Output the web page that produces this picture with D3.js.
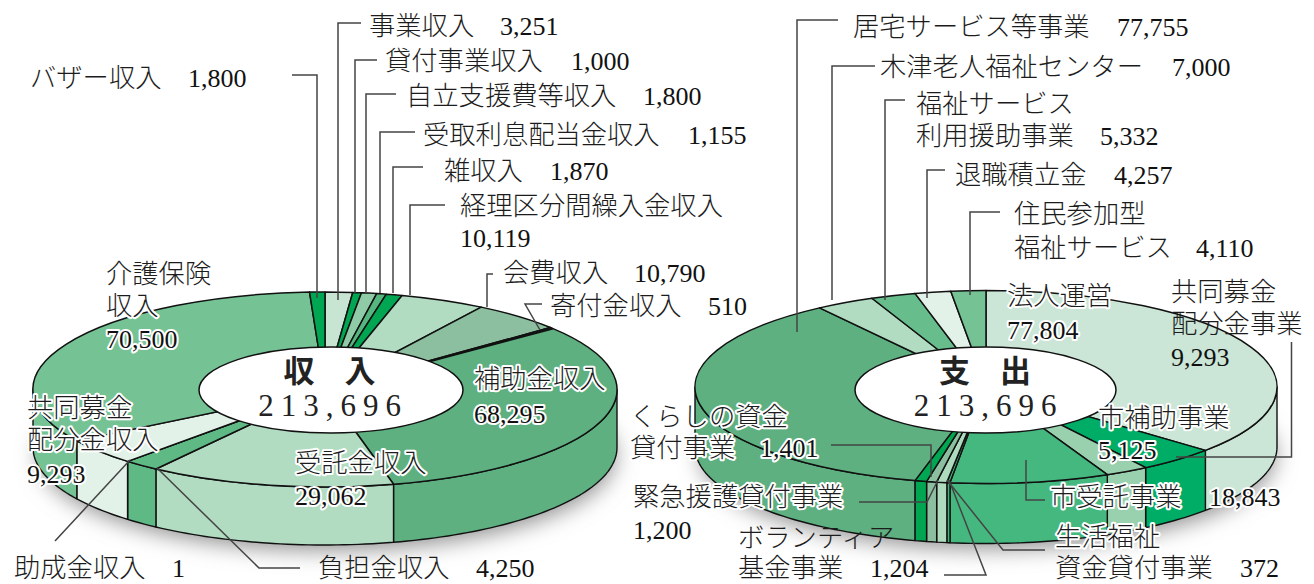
<!DOCTYPE html>
<html lang="ja"><head><meta charset="utf-8">
<script src="https://cdn.jsdelivr.net/npm/d3@7"></script>
<style>
html,body{margin:0;padding:0;background:#fff}
svg{display:block}
.jp{font-family:"Noto Sans CJK JP","Noto Sans";font-size:26.3px;font-weight:300;fill:#1c1c1c}
.num{font-family:"Liberation Serif";font-size:26px;fill:#111}
.halo{paint-order:stroke;stroke:#fff;stroke-width:4px;stroke-linejoin:round}
</style></head><body>
<svg id="c" width="1314" height="584"></svg>
<script>
// ---------- data ----------
const incomeNames = ["事業収入","貸付事業収入","自立支援費等収入","受取利息配当金収入","雑収入","経理区分間繰入金収入","会費収入","寄付金収入","補助金収入","受託金収入","負担金収入","助成金収入","共同募金配分金収入","介護保険収入","バザー収入"];
const incomeValues = [3251,1000,1800,1155,1870,10119,10790,510,68295,29062,4250,1,9293,70500,1800];
const incomeColors = ["#c8e4d2","#00a651","#8ecba6","#55b67f","#00a651","#b1dcc1","#8cbf9f","#17392a","#5eb081","#b1dcc1","#5fb985","#222222","#e3f2e8","#75c295","#00a651"];
const expenseNames = ["法人運営","共同募金配分金事業","市補助事業","市受託事業","生活福祉資金貸付事業","ボランティア基金事業","緊急援護貸付事業","くらしの資金貸付事業","居宅サービス等事業","木津老人福祉センター","福祉サービス利用援助事業","退職積立金","住民参加型福祉サービス"];
const expenseValues = [77804,9293,5125,18843,372,1204,1200,1401,77755,7000,5332,4257,4110];
const expenseColors = ["#cbe6d6","#00ad66","#99d0ae","#45b880","#3fb57c","#aedabe","#8cbf9f","#00a651","#5eb081","#b1dcc1","#68bd8d","#e3f2e8","#75c295"];
const centerTitles = [["収","入"],["支","出"]];
const centerTotals = ["213,696","213,696"];

// ---------- layout ----------
const pies = [
 {names:incomeNames,values:incomeValues,colors:incomeColors,cx:325,cy:389.5,rx:292,ry:97.5,depth:58,hx:331,hy:390,hrx:132,hry:43},
 {names:expenseNames,values:expenseValues,colors:expenseColors,cx:986,cy:387,rx:291,ry:96.5,depth:60,hx:985.5,hy:390,hrx:130.5,hry:43}
];
// [text, x, baselineY, halo?]
const jpLabels = [
 ["バザー収入",30,87],["事業収入",369,35],["貸付事業収入",385,70],["自立支援費等収入",406,105],["受取利息配当金収入",423,144],["雑収入",444,180],["経理区分間繰入金収入",460,215],["会費収入",503,282],["寄付金収入",550,315],
 ["介護保険",106,283,1],["収入",106,315,1],["補助金収入",474,388,1],["共同募金",27,417,1],["配分金収入",27,449,1],["受託金収入",295,472,1],["助成金収入",14,576.5],["負担金収入",318,576.5],
 ["居宅サービス等事業",853,36],["木津老人福祉センター",880,76],["福祉サービス",916,113],["利用援助事業",916,145],["退職積立金",955,184],["住民参加型",1014,223],["福祉サービス",1014,257],
 ["法人運営",1007,305,1],["共同募金",1171,301],["配分金事業",1171,333],["市補助事業",1098,427,1],["市受託事業",1050,506,1],["くらしの資金",630,426,1],["貸付事業",630,457,1],["緊急援護貸付事業",633,506,1],["ボランティア",738,547],["基金事業",738,576.5],["生活福祉",1055,546,1],["資金貸付事業",1055,576.5]
];
const numLabels = [
 ["1,800",188,87],["3,251",500,35],["1,000",571,70],["1,800",643,105],["1,155",688,144],["1,870",550,180],["10,119",460,247],["10,790",634,282],["510",708,315],
 ["70,500",106,348,1],["68,295",474,423,1],["9,293",27,483,1],["29,062",295,505,1],["1",172,577],["4,250",476,577],
 ["77,755",1117,36],["7,000",1172,76],["5,332",1100,145],["4,257",1114,184],["4,110",1196,257],["77,804",1007,339,1],["9,293",1171,366],["5,125",1098,459,1],["18,843",1209,506,1],["1,401",760,457,1],["1,200",633,539],["1,204",870,577],["372",1240,577]
];
const leaders = [
 [[292,75],[317,75],[317,298]],[[361,23],[338,23],[338,300]],[[377,60],[355,60],[355,293]],[[396,94],[366,94],[366,293]],[[415,132],[380,132],[380,293]],[[423,167],[393,167],[393,293]],[[445,205],[410,205],[410,295]],[[493,274],[487,274],[487,307]],[[542,304],[525,304],[540,330]],[[55,541],[130,460]],[[157,468],[259,568],[300,568]],
 [[838,20],[797,20],[797,332]],[[875,66],[832,66],[832,300]],[[905,100],[885,100],[885,300]],[[945,170],[927,170],[927,298]],[[1000,212],[970,212],[970,295]],[[1291.5,342],[1291.5,457],[1176,457]],[[1026,460],[1026,500],[1045,500]],[[831,445],[931,445],[931,477]],[[859,502],[927,502],[938,480]],[[944,575],[986,575],[949,480]],[[1045,550],[1003,550],[947,480]]
];

// ---------- drawing ----------
const svg = d3.select("#c");
const defs = svg.append("defs");
defs.append("filter").attr("id","blur").attr("x","-20%").attr("y","-50%").attr("width","140%").attr("height","200%")
    .append("feGaussianBlur").attr("stdDeviation",11);

const pieGen = d3.pie().sort(null).startAngle(0).endAngle(2*Math.PI).padAngle(0);

pies.forEach((p,pi)=>{
  const g = svg.append("g");
  g.append("ellipse").attr("cx",p.cx+2).attr("cy",p.cy+p.depth+8).attr("rx",p.rx-4).attr("ry",p.ry-3)
    .attr("fill","#8d8d8d").attr("filter","url(#blur)");
  const arcs = pieGen(p.values);
  const sx = d3.scaleLinear().domain([-1,1]).range([p.cx-p.rx,p.cx+p.rx]);
  const sy = d3.scaleLinear().domain([-1,1]).range([p.cy-p.ry,p.cy+p.ry]);
  const line = d3.line();
  const lo = Math.PI/2, hi = 3*Math.PI/2;
  arcs.forEach((a,i)=>{
    const a0 = Math.max(a.startAngle,lo), a1 = Math.min(a.endAngle,hi);
    if(a1<=a0) return;
    const n = Math.max(2,Math.ceil((a1-a0)*40));
    const ts = d3.range(n+1).map(k=>a0+(a1-a0)*k/n);
    const top = ts.map(t=>[sx(Math.sin(t)),sy(-Math.cos(t))]);
    const bot = ts.slice().reverse().map(t=>[sx(Math.sin(t)),sy(-Math.cos(t))+p.depth]);
    g.append("path").attr("d",line(top.concat(bot))+"Z")
      .attr("fill",p.colors[i]).attr("stroke","#111").attr("stroke-width",1.4).attr("stroke-linejoin","round");
  });
  const arc = d3.arc().innerRadius(0).outerRadius(1);
  const face = g.append("g").attr("transform",`translate(${p.cx},${p.cy}) scale(${p.rx},${p.ry})`);
  face.selectAll("path").data(arcs).join("path")
    .attr("d",arc)
    .attr("fill",(d,i)=>p.colors[i])
    .attr("stroke","#111").attr("stroke-width",1.5)
    .attr("vector-effect","non-scaling-stroke").attr("stroke-linejoin","round");
  g.append("ellipse").attr("cx",p.hx).attr("cy",p.hy).attr("rx",p.hrx).attr("ry",p.hry)
    .attr("fill","#fff").attr("stroke","#111").attr("stroke-width",1.5);
});

const lg = d3.line();
svg.append("g").selectAll("path").data(leaders).join("path")
  .attr("d",d=>lg(d)).attr("fill","none").attr("stroke","#444").attr("stroke-width",1.5);

const put = (rows,cls)=>svg.append("g").selectAll("text").data(rows).join("text")
  .attr("class",d=>cls+(d[3]?" halo":"")).attr("x",d=>d[1]).attr("y",d=>d[2]).text(d=>d[0]);
put(jpLabels,"jp"); put(numLabels,"num");

pies.forEach((p,i)=>{
  const cx = [330,985.5][i];
  centerTitles[i].forEach((t,k)=>{
    svg.append("text").attr("x",cx+(k?30:-31)).attr("y",382).attr("text-anchor","middle")
      .attr("font-family",'"Noto Sans CJK JP"').attr("font-weight",700).attr("font-size",31).attr("fill","#222").text(t);
  });
  svg.append("text").attr("x",cx+3).attr("y",416).attr("text-anchor","middle")
     .attr("font-family","Liberation Serif").attr("font-size",31).attr("letter-spacing","7px").attr("fill","#222").text(centerTotals[i]);
});
</script></body></html>
